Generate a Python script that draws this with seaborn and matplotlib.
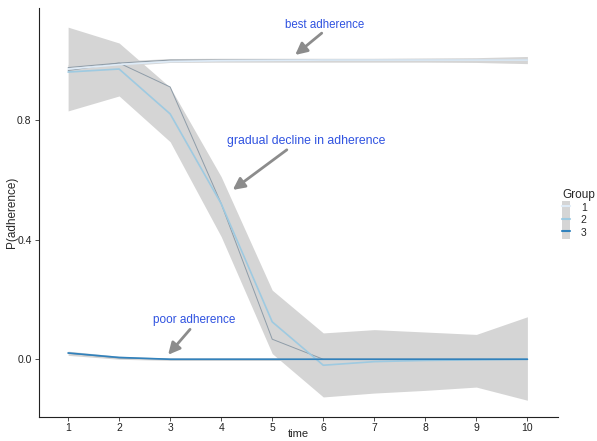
import numpy as np
import pandas as pd
import matplotlib
matplotlib.use("Agg")
import matplotlib.pyplot as plt
import seaborn as sns
from matplotlib.patches import Patch
from matplotlib.lines import Line2D

# ---- data ----
time = [1, 2, 3, 4, 5, 6, 7, 8, 9, 10]
groups = ["1", "2", "3"]

g1_pred = [0.970, 0.985, 0.995, 0.998, 0.999, 1.000, 1.000, 1.000, 1.000, 1.000]
g1_obs  = [0.975, 0.990, 1.000, 1.000, 1.000, 1.000, 1.000, 1.000, 1.000, 1.000]
g1_lo   = [0.962, 0.980, 0.992, 0.993, 0.993, 0.993, 0.993, 0.993, 0.992, 0.988]
g1_hi   = [0.985, 0.997, 1.005, 1.006, 1.006, 1.006, 1.006, 1.007, 1.008, 1.012]

g2_pred = [0.960, 0.970, 0.820, 0.520, 0.125, -0.020, -0.008, -0.004, -0.002, 0.000]
g2_obs  = [0.965, 0.990, 0.910, 0.520, 0.067, 0.000, 0.000, 0.000, 0.000, 0.000]
g2_lo   = [0.830, 0.880, 0.727, 0.410, 0.019, -0.126, -0.113, -0.104, -0.093, -0.137]
g2_hi   = [1.110, 1.057, 0.909, 0.610, 0.231, 0.088, 0.099, 0.091, 0.083, 0.142]

g3_pred = [0.021, 0.006, 0.000, 0.000, 0.000, 0.000, 0.000, 0.000, 0.000, 0.000]
g3_obs  = [0.020, 0.004, 0.000, 0.000, 0.000, 0.000, 0.000, 0.000, 0.000, 0.000]
g3_lo   = [0.013, 0.000, -0.004, -0.004, -0.004, -0.004, -0.004, -0.004, -0.004, -0.005]
g3_hi   = [0.027, 0.010, 0.004, 0.004, 0.004, 0.004, 0.004, 0.004, 0.004, 0.005]

palette = ["#DEEBF7", "#9ECAE1", "#3182BD"]
ribbon_color = "#d5d5d5"
obs_color = "#8e9ca8"

rows = []
for g, pr, ob, lo, hi in zip(groups,
                             [g1_pred, g2_pred, g3_pred],
                             [g1_obs, g2_obs, g3_obs],
                             [g1_lo, g2_lo, g3_lo],
                             [g1_hi, g2_hi, g3_hi]):
    for t, p, o, l, h in zip(time, pr, ob, lo, hi):
        rows.append(dict(time=t, Group=g, pred=p, obs=o, lo=l, hi=h))
df = pd.DataFrame(rows)

# ---- style ----
sns.set_style("ticks")
plt.rcParams["font.family"] = ["Liberation Sans", "DejaVu Sans"]

fig = plt.figure(figsize=(5.97, 4.41), dpi=100)
ax = fig.add_axes([38.5 / 597, 24 / 441, (558 - 38.5) / 597, (417 - 8) / 441])

# ribbons
for g in groups:
    sub = df[df.Group == g]
    ax.fill_between(sub.time, sub.lo, sub.hi, color=ribbon_color, lw=0, zorder=1)

# observed lines (gray)
sns.lineplot(data=df, x="time", y="obs", units="Group", estimator=None,
             color=obs_color, lw=0.7, ax=ax, legend=False, zorder=2)
# predicted lines
sns.lineplot(data=df, x="time", y="pred", hue="Group", palette=palette,
             lw=1.2, ax=ax, legend=False, zorder=3)

ax.set_xlim(0.42, 10.6)
ax.set_ylim(-0.193, 1.174)
ax.set_xticks(time)
ax.set_xticklabels([str(t) for t in time])
ax.set_yticks([0.0, 0.4, 0.8])
ax.set_yticklabels(["0.0", "0.4", "0.8"])
ax.tick_params(axis="both", labelsize=7.5, length=3, width=0.6, color="#333333",
               pad=2, labelcolor="#222222")
ax.tick_params(axis="x", pad=1.2)
for s in ["top", "right"]:
    ax.spines[s].set_visible(False)
for s in ["left", "bottom"]:
    ax.spines[s].set_linewidth(0.8)
    ax.spines[s].set_color("#222222")

ax.set_xlabel("time", fontsize=8, labelpad=-2.5)
ax.set_ylabel("P(adherence)", fontsize=8.5, labelpad=-1)

# annotations
txt_color = "#2f52e0"
arrow = dict(arrowstyle="-|>,head_length=0.7,head_width=0.35", color="#8c8c8c",
             lw=2.0, shrinkA=0, shrinkB=0)
ax.text(6.03, 1.117, "best adherence", color=txt_color, fontsize=8.3, ha="center", va="center")
ax.annotate("", xy=(5.45, 1.017), xytext=(5.97, 1.09), arrowprops=arrow)
ax.text(5.66, 0.73, "gradual decline in adherence", color=txt_color, fontsize=8.8,
        ha="center", va="center")
ax.annotate("", xy=(4.227, 0.566), xytext=(5.286, 0.70), arrowprops=arrow)
ax.text(3.47, 0.13, "poor adherence", color=txt_color, fontsize=8.5, ha="center", va="center")
ax.annotate("", xy=(2.96, 0.015), xytext=(3.39, 0.10), arrowprops=arrow)

# legend
handles = [(Patch(facecolor=ribbon_color, edgecolor="none"),
            Line2D([], [], color=c, lw=1.5)) for c in palette]
leg = fig.legend(handles, groups, title="Group", loc="center left",
                 bbox_to_anchor=(562 / 597, (441 - 214) / 441), frameon=False,
                 fontsize=7.5, title_fontsize=8.5, handlelength=0.8,
                 handleheight=1.5, labelspacing=0.0, handletextpad=1.0,
                 borderaxespad=0, borderpad=0)
leg._legend_box.align = "left"

fig.savefig("out.png", dpi=100)
